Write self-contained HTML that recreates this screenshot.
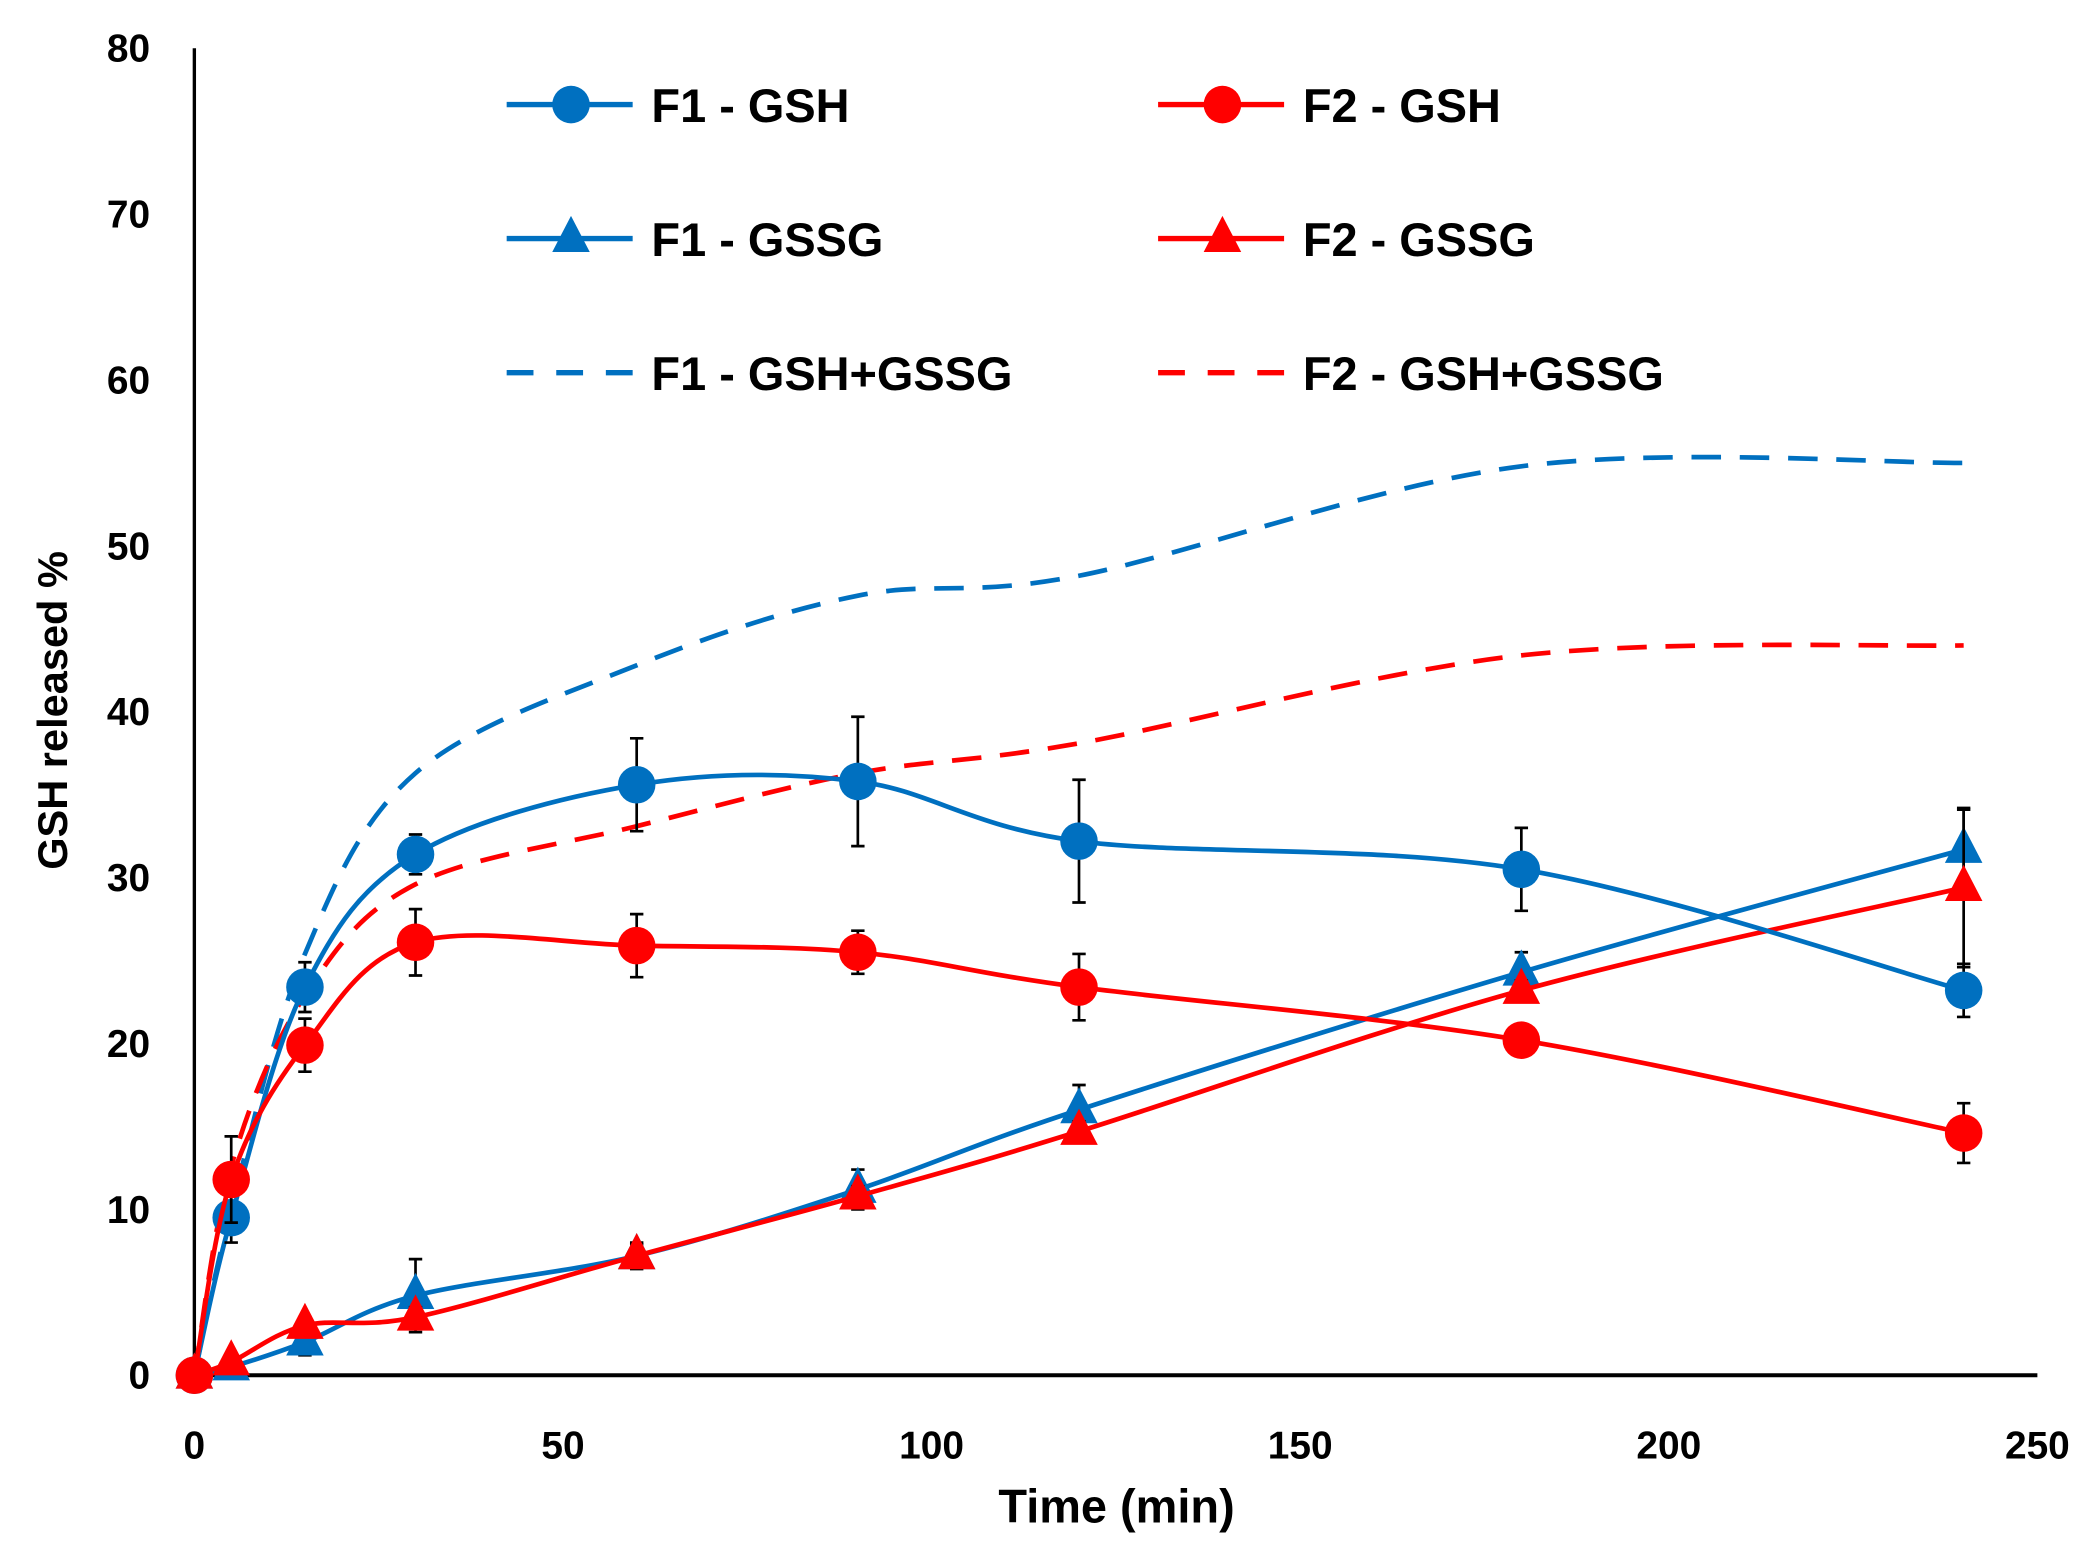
<!DOCTYPE html>
<html><head><meta charset="utf-8"><style>
html,body{margin:0;padding:0;background:#fff;}
svg{display:block;font-family:"Liberation Sans",sans-serif;font-weight:bold;}
</style></head><body>
<svg id="chart" width="2091" height="1553" viewBox="0 0 1560 1158.6" xmlns="http://www.w3.org/2000/svg">
<g id="axes"></g>
<g id="series"></g>
<g id="legend"></g>
<text transform="translate(50,530) rotate(-90)" text-anchor="middle" font-size="31">GSH released %</text>
<text x="833" y="1136" text-anchor="middle" font-size="35">Time (min)</text>
</svg>
<script>
const times=[0,5,15,30,60,90,120,180,240];
const f1Gsh=[0,9.5,23.4,31.4,35.6,35.8,32.2,30.5,23.2];
const f1GshErr=[0,1.5,1.5,1.2,2.8,3.9,3.7,2.5,1.6];
const f2Gsh=[0,11.8,19.9,26.1,25.9,25.5,23.4,20.2,14.6];
const f2GshErr=[0,2.6,1.6,2.0,1.9,1.3,2.0,0.5,1.8];
const f1Gssg=[0,0.5,2.0,4.8,7.2,11.2,16.0,24.3,31.7];
const f1GssgErr=[0,0.5,0.8,2.2,0.7,1.2,1.5,1.2,2.4];
const f2Gssg=[0,0.8,3.0,3.5,7.2,10.8,14.7,23.2,29.4];
const f2GssgErr=[0,0.4,0.5,0.6,0.8,0.6,0.6,0.6,4.8];
const f1Sum=[0,10.0,25.4,36.3,42.8,47.0,48.2,54.8,55.0];
const f2Sum=[0,12.6,22.9,29.6,33.1,36.3,38.1,43.4,44.0];
const yTicks=[0,10,20,30,40,50,60,70,80];
const xTicks=[0,50,100,150,200,250];

const NS="http://www.w3.org/2000/svg";
const X0=145,X1=1520,Y0=1026,Y1=36;
function sx(v){return X0+(v/250)*(X1-X0);}
function sy(v){return Y0-(v/80)*(Y0-Y1);}
function mk(tag,attrs,parent){const e=document.createElementNS(NS,tag);for(const k in attrs)e.setAttribute(k,attrs[k]);parent.appendChild(e);return e;}
const axes=document.getElementById('axes'),series=document.getElementById('series'),legend=document.getElementById('legend');

let l=mk('line',{x1:X0,y1:Y1,x2:X0,y2:Y0,stroke:'#000','stroke-width':2.5},axes);


l=mk('line',{x1:X0,y1:Y0,x2:X1,y2:Y0,stroke:'#000','stroke-width':3},axes);


yTicks.forEach(v=>{const t=mk('text',{x:112,y:sy(v)+10,'text-anchor':'end','font-size':29},axes);t.textContent=v;

});
xTicks.forEach(v=>{const t=mk('text',{x:sx(v),y:1088,'text-anchor':'middle','font-size':29},axes);t.textContent=v;

});

function smoothPath(xs,ys){
  const p=xs.map((x,i)=>[sx(x),sy(ys[i])]);
  let d='M'+p[0][0]+','+p[0][1];
  for(let i=0;i<p.length-1;i++){
    const p0=p[i-1]||p[i],p1=p[i],p2=p[i+1],p3=p[i+2]||p2;const t=6;
    d+=' C'+(p1[0]+(p2[0]-p0[0])/t)+','+(p1[1]+(p2[1]-p0[1])/t)+' '+(p2[0]-(p3[0]-p1[0])/t)+','+(p2[1]-(p3[1]-p1[1])/t)+' '+p2[0]+','+p2[1];
  }
  return d;
}
function marker(g,type,x,y,color){
  if(type==='circle')return mk('circle',{cx:x,cy:y,r:14,fill:color},g);
  if(type==='tri')return mk('polygon',{points:(x)+','+(y-17)+' '+(x-14)+','+(y+10)+' '+(x+14)+','+(y+10),fill:color},g);
}
function drawSeries(name,vals,errs,color,type,dash){
  const g=mk('g',{},series);
  
  
  const p=mk('path',{d:smoothPath(times,vals),fill:'none',stroke:color,'stroke-width':3.5},g);
  if(dash)p.setAttribute('stroke-dasharray','22,14');
  
  
  if(errs){
    times.forEach((t,i)=>{if(!errs[i])return;const x=sx(t),a=sy(vals[i]+errs[i]),b=sy(vals[i]-errs[i]);
      const e=mk('path',{d:'M'+x+','+a+' V'+b+' M'+(x-5)+','+a+' H'+(x+5)+' M'+(x-5)+','+b+' H'+(x+5),stroke:'#000','stroke-width':2,fill:'none'},g);
      
      });
  }
  if(type){times.forEach((t,i)=>{const m=marker(g,type,sx(t),sy(vals[i]),color);
    
    });}
}
const BLUE='#0070C0',RED='#FF0000';
drawSeries('f1-gsh-gssg-series',f1Sum,null,BLUE,null,true);
drawSeries('f2-gsh-gssg-series',f2Sum,null,RED,null,true);
drawSeries('f1-gssg-series',f1Gssg,f1GssgErr,BLUE,'tri',false);
drawSeries('f2-gssg-series',f2Gssg,f2GssgErr,RED,'tri',false);
drawSeries('f1-gsh-series',f1Gsh,f1GshErr,BLUE,'circle',false);
drawSeries('f2-gsh-series',f2Gsh,f2GshErr,RED,'circle',false);

const legendItems=[['F1 - GSH',BLUE,'circle',false,378,78],['F2 - GSH',RED,'circle',false,864,78],
['F1 - GSSG',BLUE,'tri',false,378,178],['F2 - GSSG',RED,'tri',false,864,178],
['F1 - GSH+GSSG',BLUE,null,true,378,278],['F2 - GSH+GSSG',RED,null,true,864,278]];
legendItems.forEach(it=>{
  const g=mk('g',{},legend);
  
  
  const ln=mk('line',{x1:it[4],y1:it[5],x2:it[4]+94,y2:it[5],stroke:it[1],'stroke-width':4},g);
  if(it[3])ln.setAttribute('stroke-dasharray','20,17');
  if(it[2])marker(g,it[2],it[4]+48,it[5],it[1]);
  const t=mk('text',{x:it[4]+108,y:it[5]+13,'font-size':35},g);t.textContent=it[0];
});
</script>
</body></html>
